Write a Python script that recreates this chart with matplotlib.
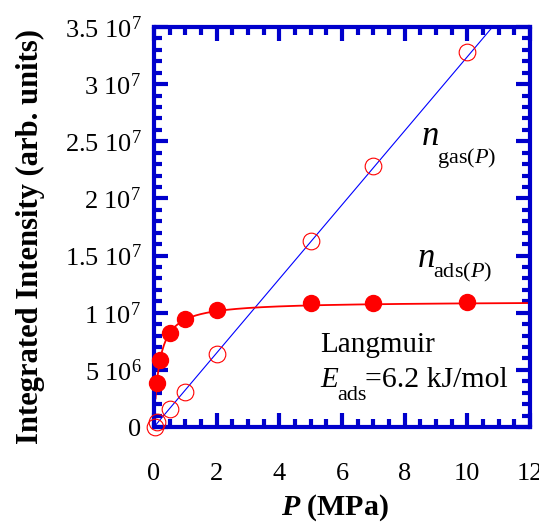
import numpy as np
import matplotlib
matplotlib.use('Agg')
import matplotlib.pyplot as plt
from matplotlib.ticker import MultipleLocator, FixedLocator

plt.rcParams['font.family'] = ['Liberation Serif', 'DejaVu Serif']
plt.rcParams['mathtext.fontset'] = 'custom'
plt.rcParams['mathtext.rm'] = 'Liberation Serif'
plt.rcParams['mathtext.it'] = 'Liberation Serif:italic'
plt.rcParams['mathtext.bf'] = 'Liberation Serif:bold'
plt.rcParams['mathtext.bfit'] = 'Liberation Serif:italic:bold'

# gas phase (open circles) and adsorbed (filled circles)
p_gas = [0.03, 0.1, 0.5, 1.0, 2.0, 5.0, 7.0, 10.0]
n_gas = [0.0, 4.5e5, 1.6e6, 3.05e6, 6.4e6, 1.63e7, 2.28e7, 3.28e7]
p_ads = [0.1, 0.2, 0.5, 1.0, 2.0, 5.0, 7.0, 10.0]
n_ads = [3.85e6, 5.85e6, 8.2e6, 9.45e6, 1.02e7, 1.085e7, 1.085e7, 1.09e7]

# linear fit for gas and Langmuir isotherm for adsorbed amount
gas_slope = 3.24e6
n_max = 1.1e7
K = 5.9

yticks = [0, 5e6, 1e7, 1.5e7, 2e7, 2.5e7, 3e7, 3.5e7]
ylabels = ['0', r'5 10$^{6}$', r'1 10$^{7}$', r'1.5 10$^{7}$', r'2 10$^{7}$',
           r'2.5 10$^{7}$', r'3 10$^{7}$', r'3.5 10$^{7}$']

W, H = 539, 526
fig = plt.figure(figsize=(W / 100, H / 100), dpi=100)
ax = fig.add_axes([154 / W, (H - 427) / H, (530 - 154) / W, (427 - 27) / H])

pp = np.linspace(0, 12, 200)
ax.plot(pp, gas_slope * pp, color='#0000ff', lw=0.8, zorder=2)
pl = np.linspace(0.05, 12, 400)
ax.plot(pl, n_max * K * pl / (1 + K * pl), color='#ff0000', lw=1.3, zorder=2)

ax.plot(p_gas, n_gas, 'o', ms=12, mfc='none', mec='#ff0000', mew=0.8,
        clip_on=False, zorder=3)
ax.plot(p_ads, n_ads, 'o', ms=11.5, color='#ff0000', clip_on=False, zorder=3)

ax.set_xlim(0, 12)
ax.set_ylim(0, 3.5e7)

blue = '#0000cc'
for s in ax.spines.values():
    s.set_color(blue)
    s.set_linewidth(3)

ax.xaxis.set_major_locator(MultipleLocator(2))
ax.xaxis.set_minor_locator(MultipleLocator(0.5))
ax.yaxis.set_major_locator(FixedLocator(yticks))
ax.yaxis.set_minor_locator(MultipleLocator(1e6))
ax.set_yticklabels(ylabels)
ax.tick_params(which='both', direction='in', color=blue, top=True, right=True,
               labelsize=19, labelcolor='black')
ax.tick_params(which='major', length=10, width=3)
ax.tick_params(which='minor', length=6, width=3)
ax.tick_params(axis='y', which='major', pad=9)
ax.tick_params(axis='x', which='major', pad=26)

ax.set_xlabel(r'$\mathbfit{P}$ (MPa)', fontsize=21.5, fontweight='bold')
ax.xaxis.set_label_coords(0.48, -0.163)
ax.set_ylabel('Integrated Intensity (arb. units)', fontsize=22,
              fontweight='bold')
ax.yaxis.set_label_coords(-0.29, 0.475)

ax.text(8.55, 2.47e7, 'n', fontsize=25, style='italic', ha='left', va='baseline')
ax.text(9.03, 2.31e7, r'gas($\mathit{P}$)', fontsize=16, ha='left', va='baseline')
ax.text(8.43, 1.40e7, 'n', fontsize=25, style='italic', ha='left', va='baseline')
ax.text(8.9, 1.31e7, r'ads($\mathit{P}$)', fontsize=16, ha='left', va='baseline')

ax.text(5.3, 6.56e6, 'Langmuir', fontsize=21, ha='left', va='baseline')
ax.text(5.3, 3.5e6, 'E', fontsize=21, style='italic', ha='left', va='baseline')
ax.text(5.84, 2.36e6, 'ads', fontsize=16, ha='left', va='baseline')
ax.text(6.73, 3.5e6, '=6.2 kJ/mol', fontsize=21.5, ha='left', va='baseline')

fig.savefig('out.png', dpi=100)
